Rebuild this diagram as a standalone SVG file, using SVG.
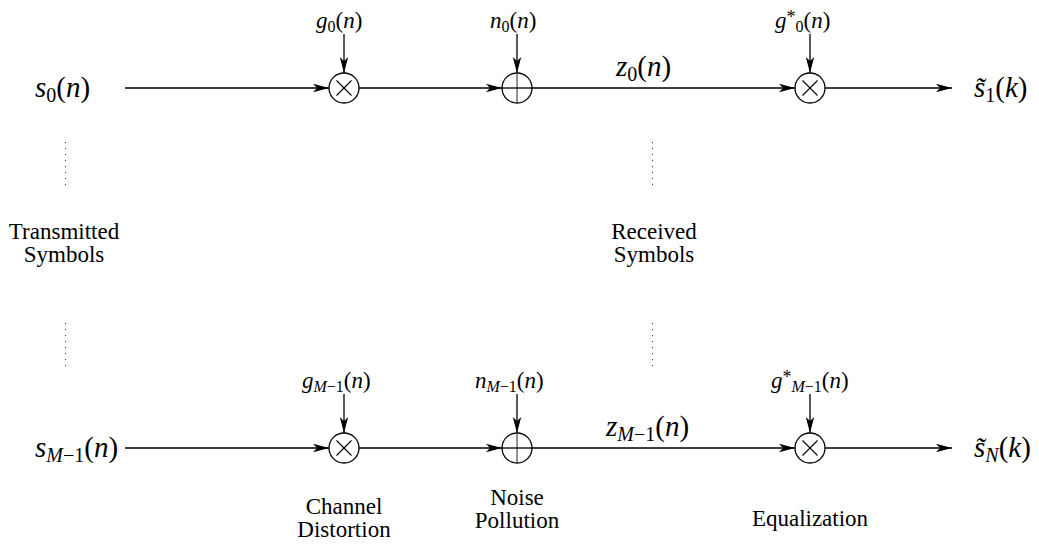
<svg xmlns="http://www.w3.org/2000/svg" width="1039" height="546" viewBox="0 0 1039 546">
<style>
text{font-family:"Liberation Serif","Times New Roman",serif;fill:#000}
.m{font-size:29px}
.b{font-size:23px}
.w{font-size:23px;text-anchor:middle}
.i{font-style:italic}
.c{fill:#fff;stroke:#000;stroke-width:1.3}
.x{stroke:#000;stroke-width:1.1;fill:none}
.p{stroke:#555;stroke-width:1.3;fill:none}
.ln{stroke:#000;stroke-width:1.3;fill:none}
.dot{stroke:#444;stroke-width:1;stroke-dasharray:1.2 4.8;fill:none}
</style>
<defs>
<marker id="ah" markerUnits="userSpaceOnUse" markerWidth="17" markerHeight="10" refX="16" refY="5" orient="auto">
<path d="M0,0.8 L16,5 L0,9.2 L4,5 z" fill="#000"/>
</marker>
</defs>
<g id="connectors">
<line class="ln" x1="125" y1="88" x2="329" y2="88" marker-end="url(#ah)"/>
<line class="ln" x1="359" y1="88" x2="502" y2="88" marker-end="url(#ah)"/>
<line class="ln" x1="532" y1="88" x2="795" y2="88" marker-end="url(#ah)"/>
<line class="ln" x1="825" y1="88" x2="952" y2="88" marker-end="url(#ah)"/>
<line class="ln" x1="344" y1="34" x2="344" y2="73" marker-end="url(#ah)"/>
<line class="ln" x1="517" y1="34" x2="517" y2="73" marker-end="url(#ah)"/>
<line class="ln" x1="810" y1="34" x2="810" y2="73" marker-end="url(#ah)"/>
<line class="ln" x1="125" y1="448" x2="329" y2="448" marker-end="url(#ah)"/>
<line class="ln" x1="359" y1="448" x2="502" y2="448" marker-end="url(#ah)"/>
<line class="ln" x1="532" y1="448" x2="795" y2="448" marker-end="url(#ah)"/>
<line class="ln" x1="825" y1="448" x2="952" y2="448" marker-end="url(#ah)"/>
<line class="ln" x1="344" y1="394" x2="344" y2="433" marker-end="url(#ah)"/>
<line class="ln" x1="517" y1="394" x2="517" y2="433" marker-end="url(#ah)"/>
<line class="ln" x1="810" y1="394" x2="810" y2="433" marker-end="url(#ah)"/>
<line class="dot" x1="65.5" y1="142" x2="65.5" y2="186"/>
<line class="dot" x1="65.5" y1="323" x2="65.5" y2="367"/>
<line class="dot" x1="652.5" y1="142" x2="652.5" y2="186"/>
<line class="dot" x1="652.5" y1="323" x2="652.5" y2="367"/>
</g>
<g id="mult0">
<circle class="c" cx="344" cy="88" r="15"/>
<path class="x" d="M336.5,80.5 L351.5,95.5 M351.5,80.5 L336.5,95.5"/>
</g>
<g id="add0">
<circle class="c" cx="517" cy="88" r="15"/>
<path class="p" d="M517,73 L517,103"/>
<path class="ln" d="M502,88 L532,88"/>
</g>
<g id="eq0">
<circle class="c" cx="810" cy="88" r="15"/>
<path class="x" d="M802.5,80.5 L817.5,95.5 M817.5,80.5 L802.5,95.5"/>
</g>
<g id="mult1">
<circle class="c" cx="344" cy="448" r="15"/>
<path class="x" d="M336.5,440.5 L351.5,455.5 M351.5,440.5 L336.5,455.5"/>
</g>
<g id="add1">
<circle class="c" cx="517" cy="448" r="15"/>
<path class="p" d="M517,433 L517,463"/>
<path class="ln" d="M502,448 L532,448"/>
</g>
<g id="eq1">
<circle class="c" cx="810" cy="448" r="15"/>
<path class="x" d="M802.5,440.5 L817.5,455.5 M817.5,440.5 L802.5,455.5"/>
</g>
<g id="labels">
<text class="m" x="35" y="97"><tspan class="i">s</tspan><tspan font-size="20" dy="5">0</tspan><tspan dy="-5">(</tspan><tspan class="i">n</tspan>)</text>
<text class="b" x="316" y="28"><tspan class="i">g</tspan><tspan font-size="16" dy="4">0</tspan><tspan dy="-4">(</tspan><tspan class="i">n</tspan>)</text>
<text class="b" x="490" y="28"><tspan class="i">n</tspan><tspan font-size="16" dy="4">0</tspan><tspan dy="-4">(</tspan><tspan class="i">n</tspan>)</text>
<text class="m" x="616" y="76"><tspan class="i">z</tspan><tspan font-size="20" dy="5">0</tspan><tspan dy="-5">(</tspan><tspan class="i">n</tspan>)</text>
<text class="b" x="775" y="28"><tspan class="i">g</tspan><tspan font-size="18" dy="-5">*</tspan><tspan font-size="16" dy="9">0</tspan><tspan dy="-4">(</tspan><tspan class="i">n</tspan>)</text>
<text class="m" x="974" y="97"><tspan class="i">s&#x303;</tspan><tspan font-size="20" dy="5">1</tspan><tspan dy="-5">(</tspan><tspan class="i">k</tspan>)</text>
<text class="m" x="35" y="457"><tspan class="i">s</tspan><tspan font-size="20" dy="5"><tspan class="i">M</tspan>−1</tspan><tspan dy="-5">(</tspan><tspan class="i">n</tspan>)</text>
<text class="b" x="302" y="388"><tspan class="i">g</tspan><tspan font-size="16" dy="4"><tspan class="i">M</tspan>−1</tspan><tspan dy="-4">(</tspan><tspan class="i">n</tspan>)</text>
<text class="b" x="475" y="388"><tspan class="i">n</tspan><tspan font-size="16" dy="4"><tspan class="i">M</tspan>−1</tspan><tspan dy="-4">(</tspan><tspan class="i">n</tspan>)</text>
<text class="m" x="606" y="436"><tspan class="i">z</tspan><tspan font-size="20" dy="5"><tspan class="i">M</tspan>−1</tspan><tspan dy="-5">(</tspan><tspan class="i">n</tspan>)</text>
<text class="b" x="771" y="388"><tspan class="i">g</tspan><tspan font-size="18" dy="-5">*</tspan><tspan font-size="16" dy="9"><tspan class="i">M</tspan>−1</tspan><tspan dy="-4">(</tspan><tspan class="i">n</tspan>)</text>
<text class="m" x="974" y="457"><tspan class="i">s&#x303;</tspan><tspan font-size="20" dy="5" class="i">N</tspan><tspan dy="-5">(</tspan><tspan class="i">k</tspan>)</text>
</g>
<g id="captions">
<text class="w" x="64" y="239">Transmitted</text>
<text class="w" x="64" y="262">Symbols</text>
<text class="w" x="654" y="239">Received</text>
<text class="w" x="654" y="262">Symbols</text>
<text class="w" x="344" y="514">Channel</text>
<text class="w" x="344" y="537">Distortion</text>
<text class="w" x="517" y="505">Noise</text>
<text class="w" x="517" y="528">Pollution</text>
<text class="w" x="810" y="526">Equalization</text>
</g>
</svg>
